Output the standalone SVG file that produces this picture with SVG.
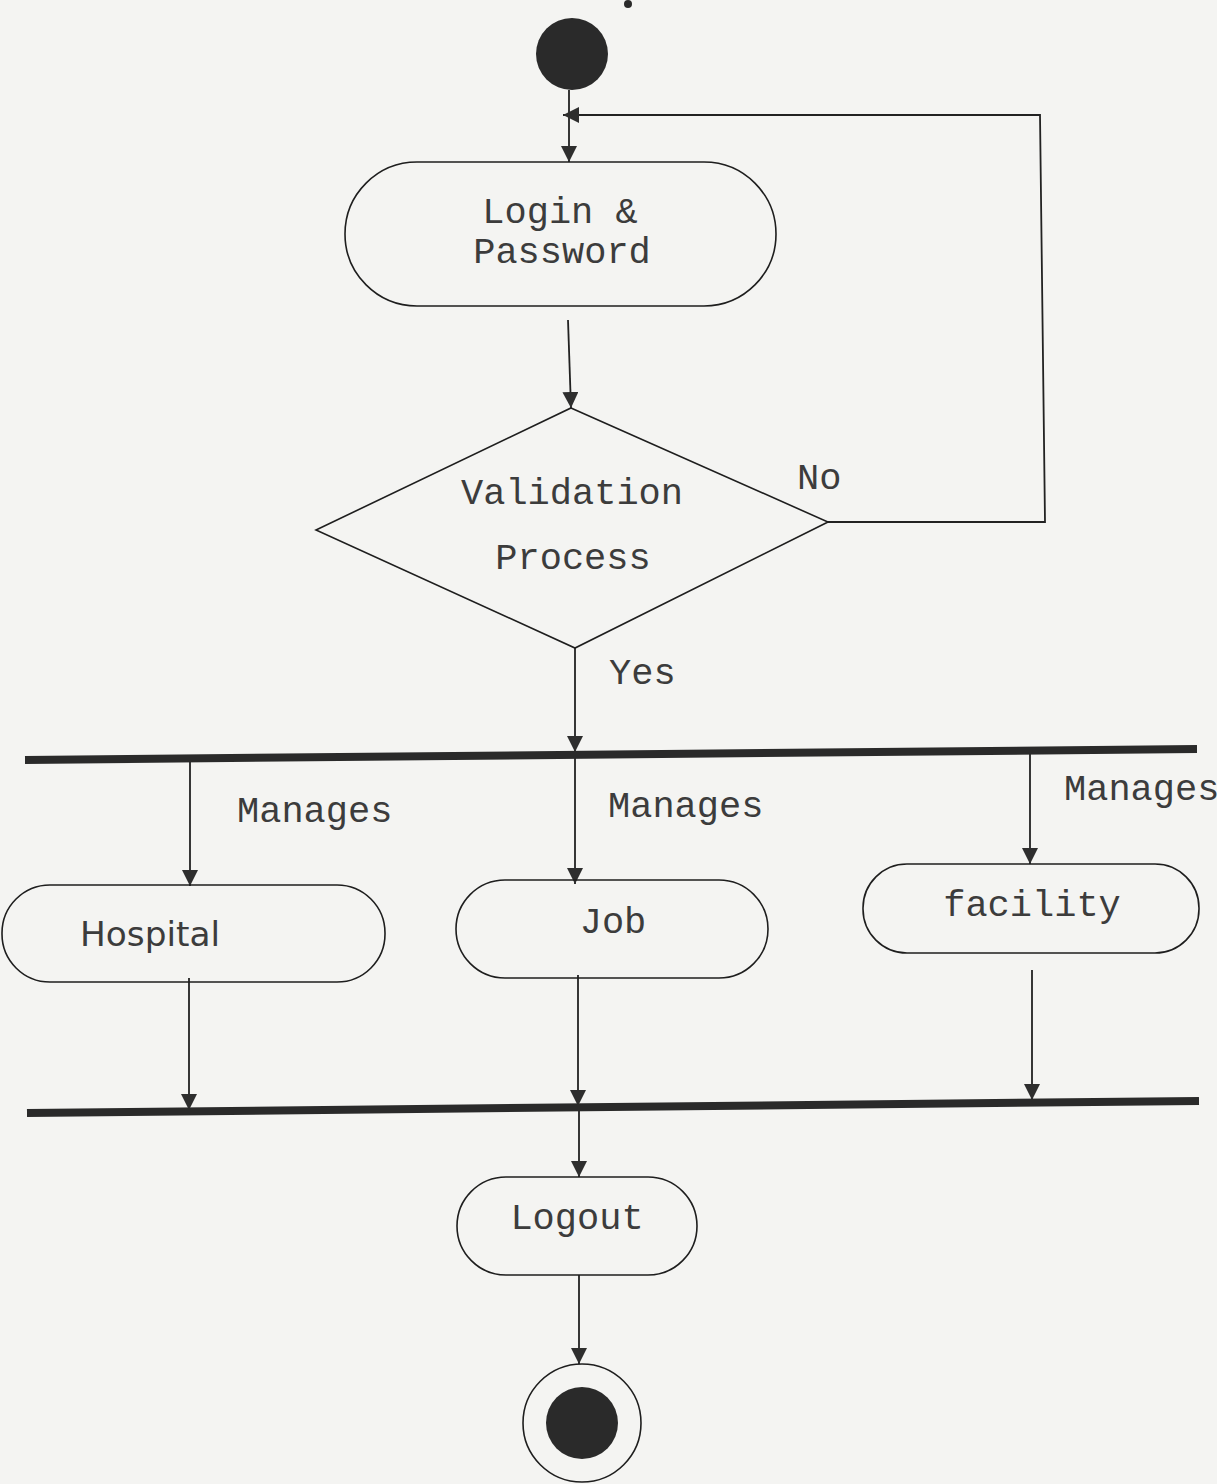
<svg xmlns="http://www.w3.org/2000/svg" width="1217" height="1484" viewBox="0 0 1217 1484">
<defs>
<marker id="arr" markerUnits="userSpaceOnUse" markerWidth="17" markerHeight="17" refX="16" refY="8" orient="auto">
<path d="M0,0 L16,8 L0,16 z" fill="#2e2e2e"/>
</marker>
</defs>
<style>
.bg{fill:#f4f4f2}
.node{fill:none;stroke:#1e1e1e;stroke-width:1.6}
.dot{fill:#2a2a2a}
.conn{fill:none;stroke:#222;stroke-width:1.8}
.arr{marker-end:url(#arr)}
.bar{stroke:#2a2a2a;stroke-width:8;fill:none}
.mono{font-family:"Liberation Mono","Courier New",monospace;font-size:37px;fill:#3c3c3c}
.sans{font-family:"DejaVu Sans","Liberation Sans",sans-serif;font-size:33px;fill:#3c3c3c}
.mid{text-anchor:middle}
</style>
<rect class="bg" x="0" y="0" width="1217" height="1484"/>
<circle class="dot" cx="628" cy="4" r="4"/>

<g id="connectors">
<line class="conn arr" x1="569" y1="90" x2="569" y2="162"/>
<polyline class="conn arr" points="828,522 1045,522 1040,115 563,115"/>
<line class="conn arr" x1="568" y1="320" x2="571" y2="408"/>
<line class="conn arr" x1="575" y1="648" x2="575" y2="752"/>
<line class="conn arr" x1="190" y1="760" x2="190" y2="886"/>
<line class="conn arr" x1="575" y1="756" x2="575" y2="884"/>
<line class="conn arr" x1="1030" y1="752" x2="1030" y2="864"/>
<line class="conn arr" x1="189" y1="978" x2="189" y2="1110"/>
<line class="conn arr" x1="578" y1="975" x2="578" y2="1106"/>
<line class="conn arr" x1="1032" y1="970" x2="1032" y2="1100"/>
<line class="conn arr" x1="579" y1="1108" x2="579" y2="1177"/>
<line class="conn arr" x1="579" y1="1275" x2="579" y2="1364"/>
<text class="mono" x="797" y="489">No</text>
<text class="mono" x="609" y="684">Yes</text>
<text class="mono" x="237" y="822">Manages</text>
<text class="mono" x="608" y="817">Manages</text>
<text class="mono" x="1064" y="800">Manages</text>
</g>

<g id="start">
<circle class="dot" cx="572" cy="54" r="36"/>
</g>

<g id="login">
<rect class="node" x="345" y="162" width="431" height="144" rx="72" ry="72"/>
<text class="mono mid" x="560" y="223">Login &amp;</text>
<text class="mono mid" x="562" y="263">Password</text>
</g>

<g id="validation">
<polygon class="node" points="571,408 828,522 575,648 316,530"/>
<text class="mono mid" x="572" y="504">Validation</text>
<text class="mono mid" x="573" y="569">Process</text>
</g>

<g id="fork">
<line class="bar" x1="25" y1="760" x2="1197" y2="749"/>
</g>

<g id="hospital">
<rect class="node" x="2" y="885" width="383" height="97" rx="48" ry="48"/>
<text class="sans" x="80" y="946" textLength="140" lengthAdjust="spacingAndGlyphs">Hospital</text>
</g>

<g id="job">
<rect class="node" x="456" y="880" width="312" height="98" rx="49" ry="49"/>
<text class="mono mid" x="613" y="933">Job</text>
</g>

<g id="facility">
<rect class="node" x="863" y="864" width="336" height="89" rx="44" ry="44"/>
<text class="mono mid" x="1032" y="916">facility</text>
</g>

<g id="join">
<line class="bar" x1="27" y1="1113" x2="1199" y2="1101"/>
</g>

<g id="logout">
<rect class="node" x="457" y="1177" width="240" height="98" rx="49" ry="49"/>
<text class="mono mid" x="577" y="1229">Logout</text>
</g>

<g id="end">
<circle class="node" cx="582" cy="1423" r="59"/>
<circle class="dot" cx="582" cy="1423" r="36"/>
</g>
</svg>
